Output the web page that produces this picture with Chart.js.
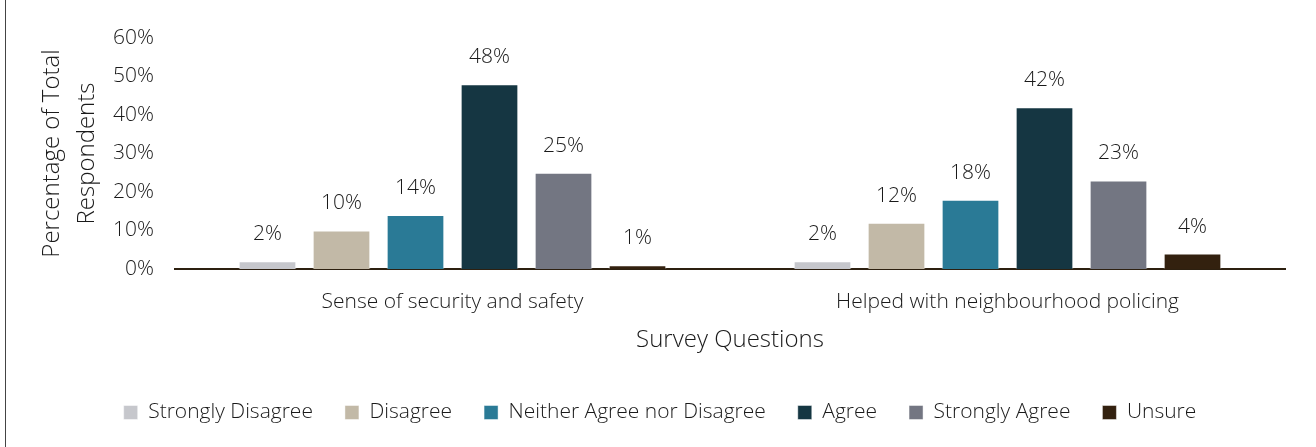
<!DOCTYPE html>
<html>
<head>
<meta charset="utf-8">
<script src="https://cdn.jsdelivr.net/npm/chart.js@4.4.1/dist/chart.umd.min.js"></script>
<style>
  html, body { margin: 0; padding: 0; background: #fff; }
  #wrap { position: relative; width: 1316px; height: 447px; }
  #edge { position: absolute; left: 5px; top: 0; width: 1px; height: 447px; background: #444; }
  canvas { position: absolute; left: 0; top: 0; }
</style>
</head>
<body>
<div id="wrap">
  <div id="edge"></div>
  <canvas id="chart" width="1316" height="447"></canvas>
</div>
<script>
// questions on the x axis
var questions = ['Sense of security and safety', 'Helped with neighbourhood policing'];

// one series per answer, values in percent
var answers = ['Strongly Disagree', 'Disagree', 'Neither Agree nor Disagree', 'Agree', 'Strongly Agree', 'Unsure'];
var stronglyDisagree = [2, 2];
var disagree = [10, 12];
var neither = [14, 18];
var agree = [48, 42];
var stronglyAgree = [25, 23];
var unsure = [1, 4];

var yTicks = [0, 10, 20, 30, 40, 50, 60];

var colours = ['#c6c7cc', '#c2b9a7', '#2a7a96', '#153642', '#737682', '#33210f'];
var series = [stronglyDisagree, disagree, neither, agree, stronglyAgree, unsure];

var FONT = '"Open Sans", "Noto Sans", sans-serif';
var TEXT = '#1a1a1a';

// draws the % value over each bar
var valueLabels = {
  id: 'valueLabels',
  afterDatasetsDraw: function(chart) {
    var ctx = chart.ctx;
    ctx.save();
    ctx.font = '300 21px ' + FONT;
    ctx.fillStyle = TEXT;
    ctx.textAlign = 'center';
    ctx.textBaseline = 'middle';
    chart.data.datasets.forEach(function(ds, i) {
      chart.getDatasetMeta(i).data.forEach(function(bar, j) {
        ctx.fillText(ds.data[j] + '%', bar.x, bar.y - 27);
      });
    });
    ctx.restore();
  }
};

Chart.defaults.font.family = FONT;
Chart.defaults.font.weight = 300;
Chart.defaults.color = TEXT;

new Chart('chart', {
  type: 'bar',
  data: {
    labels: questions,
    datasets: answers.map(function(name, i) {
      return {
        label: name,
        data: series[i],
        backgroundColor: colours[i],
        borderColor: 'rgba(255,255,255,0.45)',
        borderWidth: 1,
        categoryPercentage: 0.8,
        barPercentage: 0.78
      };
    })
  },
  options: {
    responsive: false,
    animation: false,
    layout: { padding: { top: 38, right: 31, left: 35, bottom: 14 } },
    plugins: {
      tooltip: { enabled: false },
      legend: {
        position: 'bottom',
        labels: {
          boxWidth: 14,
          boxHeight: 14,
          padding: 32,
          font: { size: 21, weight: 300 },
          color: TEXT
        }
      }
    },
    scales: {
      x: {
        grid: { display: false },
        border: { display: true, color: '#2d2010', width: 2 },
        ticks: { font: { size: 21, weight: 300 }, padding: 12, color: TEXT },
        title: {
          display: true,
          text: 'Survey Questions',
          font: { size: 24, weight: 300 },
          color: TEXT,
          padding: { top: 0, bottom: 15 }
        }
      },
      y: {
        min: 0,
        max: 60,
        afterBuildTicks: function(axis) {
          axis.ticks = yTicks.map(function(v) { return { value: v }; });
        },
        grid: { display: false },
        border: { display: false },
        ticks: {
          font: { size: 21, weight: 300 },
          color: TEXT,
          padding: 13,
          callback: function(v) { return v + '%'; }
        },
        title: {
          display: true,
          text: ['Percentage of Total', 'Respondents'],
          font: { size: 24, weight: 300, lineHeight: 1.46 },
          color: TEXT,
          padding: { top: 0, bottom: -5 }
        }
      }
    }
  },
  plugins: [valueLabels]
});
</script>
</body>
</html>
